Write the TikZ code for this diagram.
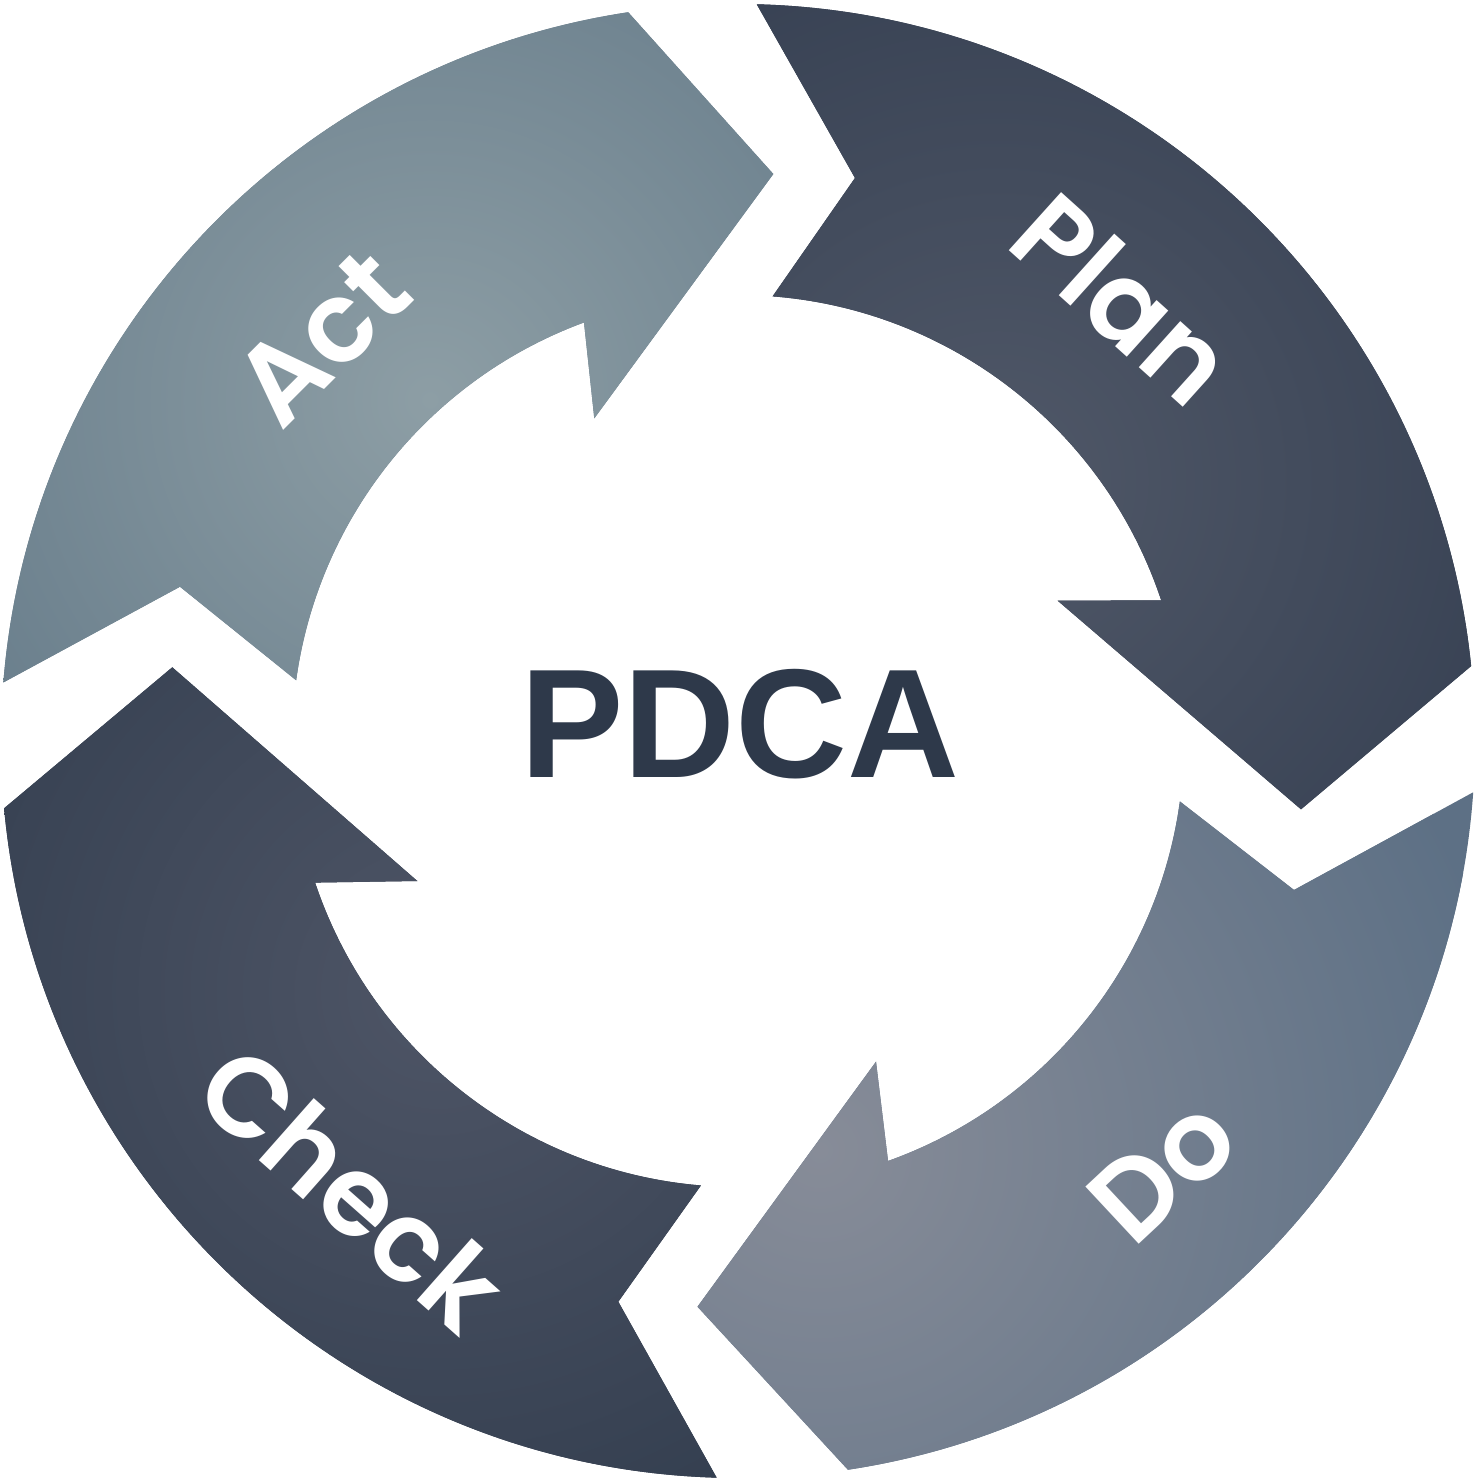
\documentclass[tikz,border=0pt]{standalone}
\usepackage{fontspec}
\setmainfont{Liberation Sans}
\newfontfamily\labfont{Poppins}[BoldFont={Poppins SemiBold}]
\newfontfamily\titlefont{Liberation Sans}
\definecolor{planin}{HTML}{505868}
\definecolor{planout}{HTML}{364052}
\definecolor{doin}{HTML}{878C98}
\definecolor{doout}{HTML}{5D7085}
\definecolor{checkin}{HTML}{4E5566}
\definecolor{checkout}{HTML}{333E4F}
\definecolor{actin}{HTML}{8D9EA5}
\definecolor{actout}{HTML}{687D8B}
\definecolor{pdcacol}{HTML}{2E394A}
\begin{document}
\begin{tikzpicture}[x=0.5pt,y=0.5pt,
  lab/.style={font=\labfont\bfseries\fontsize{56}{58}\selectfont, text=white, inner sep=0pt},
  titletext/.style={font=\titlefont\bfseries\fontsize{77.5}{80}\selectfont, text=pdcacol, inner sep=0pt}]
\def\Ro{737}
\def\Ri{446}
\useasboundingbox (-738,-737) rectangle (743,741);
\fill[white] (-738,-737) rectangle (743,741);
% Plan
\begin{scope}
\clip (88.54:\Ro) arc[start angle=88.54,end angle=5.84,radius=\Ro] -- (563,-68.3) -- (319.7,140.3)
  -- (18.39:\Ri) arc[start angle=18.39,end angle=85.55,radius=\Ri] -- (117,563) -- cycle;
\fill[planout] (-738,-737) rectangle (743,741);
\shade[inner color=planin, outer color=planout] (260,260) circle (600);
\end{scope}
% Do
\begin{scope}
\clip (-3.99:\Ro) arc[start angle=-3.99,end angle=-81.42,radius=\Ro] -- (-40.5,-565.7) -- (138,-320.7)
  -- (-70.34:\Ri) arc[start angle=-70.34,end angle=-7.79,radius=\Ri] -- (556,-149) -- cycle;
\fill[doout] (-738,-737) rectangle (743,741);
\shade[inner color=doin, outer color=doout] (82,-409) circle (700);
\end{scope}
% Check
\begin{scope}
\clip (268.34:\Ro) arc[start angle=268.34,end angle=185.24,radius=\Ro] -- (-565.7,73.7) -- (-320.7,-140)
  -- (198.51:\Ri) arc[start angle=198.51,end angle=265.23,radius=\Ri] -- (-119.7,-560.7) -- cycle;
\fill[checkout] (-738,-737) rectangle (743,741);
\shade[inner color=checkin, outer color=checkout] (-300,-250) circle (600);
\end{scope}
% Act
\begin{scope}
\clip (175.44:\Ro) arc[start angle=175.44,end angle=98.57,radius=\Ro] -- (35.3,567) -- (-143.7,322.7)
  -- (110.2:\Ri) arc[start angle=110.2,end angle=172.17,radius=\Ri] -- (-558,154.3) -- cycle;
\fill[actout] (-738,-737) rectangle (743,741);
\shade[inner color=actin, outer color=actout] (-308,341) circle (560);
\end{scope}
% labels
\node[lab, rotate=-42] (plan) at (385,443) {Plan};
\node[lab, rotate=43] (do) at (425,-429) {Do};
\node[lab, rotate=-41.5] (check) at (-386,-447) {Check};
\node[lab, rotate=45] (act) at (-416,403) {Act};
\node[titletext] (pdca) at (2,16.5) {PDCA};
\end{tikzpicture}
\end{document}
